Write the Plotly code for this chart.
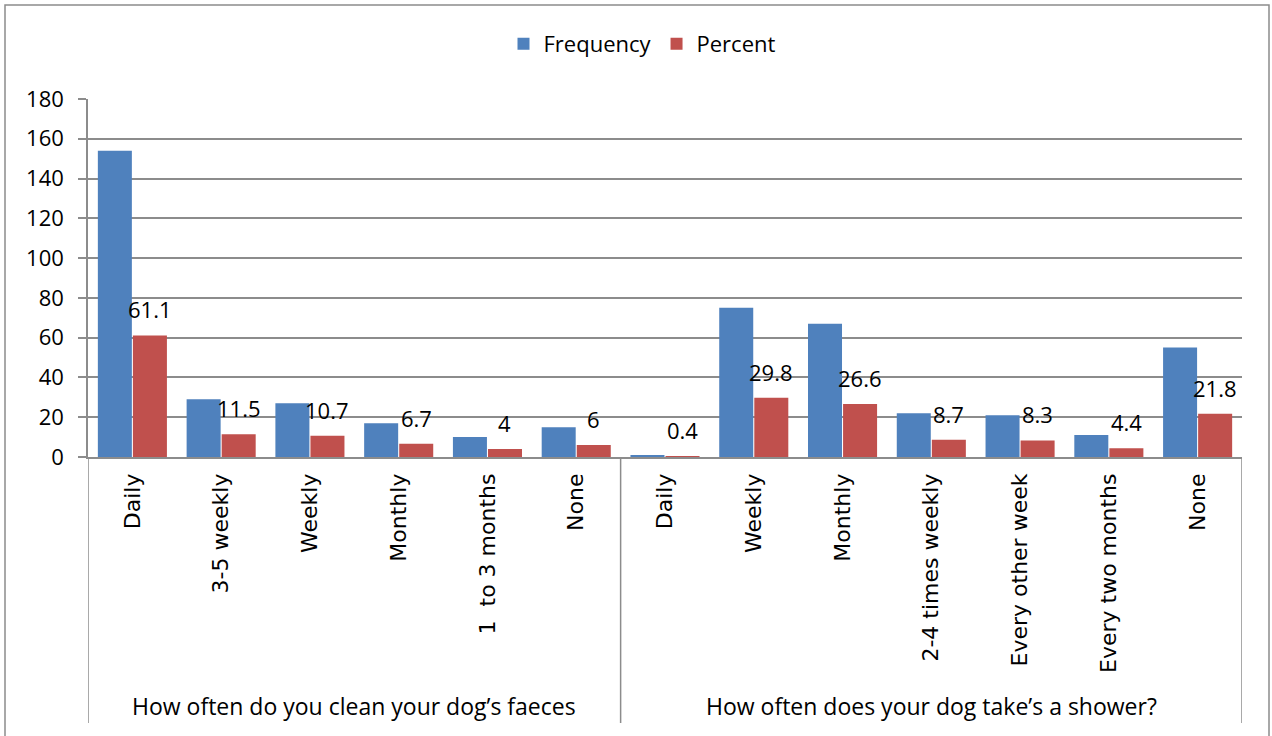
import plotly.graph_objects as go

# Survey answers, two questions side by side
faeces_labels = ["Daily", "3-5 weekly", "Weekly", "Monthly", "1  to 3 months", "None"]
shower_labels = ["Daily", "Weekly", "Monthly", "2-4 times weekly", "Every other week",
                 "Every two months", "None"]
categories = faeces_labels + shower_labels

frequency = [154, 29, 27, 17, 10, 15, 1, 75, 67, 22, 21, 11, 55]
percent = [61.1, 11.5, 10.7, 6.7, 4, 6, 0.4, 29.8, 26.6, 8.7, 8.3, 4.4, 21.8]

group_titles = ["How often do you clean your dog\u2019s faeces",
                "How often does your dog take\u2019s a shower?"]
group_sizes = [len(faeces_labels), len(shower_labels)]

y_ticks = [0, 20, 40, 60, 80, 100, 120, 140, 160, 180]

BLUE = "#4F81BD"
RED = "#C0504D"
GRID = "#8C8C8C"
FONT = "Open Sans"

W, H = 1272, 736
L, R, T, B = 88, 30, 99, 279
plot_w = W - L - R
plot_h = H - T - B

x_pos = list(range(len(categories)))
BARGAP = 0.21
bar_w = (1 - BARGAP) / 2

fig = go.Figure()
fig.add_trace(go.Bar(x=x_pos, y=frequency, name="Frequency", marker_color=BLUE,
                     marker_line_width=0))
fig.add_trace(go.Bar(x=x_pos, y=percent, name="Percent", marker_color=RED,
                     marker_line_width=0))

# Percent value labels above the red bars
annotations = []
for xi, val in zip(x_pos, percent):
    annotations.append(dict(x=xi + bar_w / 2, y=val, xref="x", yref="y",
                            text=f"{val:g}", showarrow=False, yshift=26,
                            yanchor="middle", xanchor="center",
                            font=dict(family=FONT, size=22, color="black")))

# Group titles under the category labels
start = 0
for title, n in zip(group_titles, group_sizes):
    annotations.append(dict(x=start + (n - 1) / 2, y=(457 - 706) / plot_h, xref="x",
                            yref="paper", text=title, showarrow=False,
                            yanchor="middle", xanchor="center",
                            font=dict(family=FONT, size=23, color="black")))
    start += n

# Vertical separators between the question groups
shapes = []
bounds = [-0.5]
acc = -0.5
for n in group_sizes:
    acc += n
    bounds.append(acc)
for b in bounds:
    shapes.append(dict(type="line", xref="x", yref="paper", x0=b, x1=b,
                       y0=0, y1=(457 - 723) / plot_h,
                       line=dict(color=GRID, width=1.5)))

# Outer chart border
shapes.append(dict(type="rect", xref="paper", yref="paper",
                   x0=(5 - L) / plot_w, x1=(1269 - L) / plot_w,
                   y0=(457 - 745) / plot_h, y1=(457 - 5) / plot_h,
                   line=dict(color="#8C8C8C", width=1.5), fillcolor="rgba(0,0,0,0)",
                   layer="below"))

fig.update_layout(
    width=W, height=H,
    margin=dict(l=L, r=R, t=T, b=B, autoexpand=False),
    paper_bgcolor="white", plot_bgcolor="white",
    barmode="group", bargap=BARGAP, bargroupgap=0.03,
    font=dict(family=FONT, size=20, color="black"),
    legend=dict(orientation="h", x=(642 - L) / plot_w, xanchor="center",
                y=(457 - 44) / plot_h, yanchor="middle",
                font=dict(family=FONT, size=22), itemwidth=30,
                traceorder="normal"),
    annotations=annotations,
    shapes=shapes,
    showlegend=True,
)

fig.update_xaxes(
    range=[-0.5, len(categories) - 0.5],
    tickmode="array", tickvals=x_pos, ticktext=categories,
    tickangle=-90, ticks="", showgrid=False, zeroline=False,
    showline=True, linecolor=GRID, linewidth=1.5,
    tickfont=dict(family="DejaVu Sans", size=22, color="black"),
    ticklabelstandoff=6,
)
fig.update_yaxes(
    range=[0, 180], tickmode="array", tickvals=y_ticks,
    ticks="outside", ticklen=8, tickcolor=GRID, tickwidth=1.5,
    showgrid=True, gridcolor=GRID, gridwidth=1.5, zeroline=False,
    showline=True, linecolor=GRID, linewidth=1.5,
    tickfont=dict(family=FONT, size=22, color="black"),
    ticklabelstandoff=10,
)

fig.write_html("out.html")
